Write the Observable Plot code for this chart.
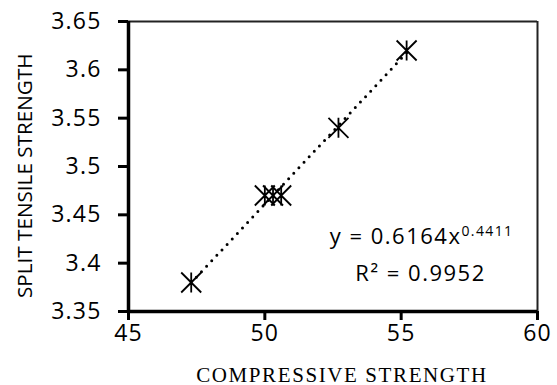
<!DOCTYPE html>
<html><head><meta charset="utf-8">
<script src="https://cdn.jsdelivr.net/npm/d3@7"></script>
<script src="https://cdn.jsdelivr.net/npm/@observablehq/plot@0.6"></script>
<style>body{margin:0;background:#fff}</style>
</head><body><div id="chart"></div>
<script>
const compressive = [47.3, 50.0, 50.3, 50.6, 52.7, 55.2];
const splitTensile = [3.38, 3.47, 3.47, 3.47, 3.54, 3.62];
const xTicks = [45, 50, 55, 60];
const yTicks = [3.35, 3.40, 3.45, 3.50, 3.55, 3.60, 3.65];
const equationText = "y = 0.6164x";
const exponentText = "0.4411";
const r2Text = "R\u00B2 = 0.9952";
const xTitle = "COMPRESSIVE STRENGTH";
const yTitle = "SPLIT TENSILE STRENGTH";

const data = compressive.map((x, i) => ({x, y: splitTensile[i]}));
const star = {
  draw(ctx) {
    const r = 10;
    ctx.moveTo(-r, -r); ctx.lineTo(r, r);
    ctx.moveTo(r, -r); ctx.lineTo(-r, r);
    ctx.moveTo(0, -r); ctx.lineTo(0, r);
  }
};
const fmt = d => String(+d.toFixed(2));

const plot = Plot.plot({
  width: 557, height: 385,
  marginLeft: 128, marginRight: 20, marginTop: 21, marginBottom: 74,
  x: {domain: [45, 60]},
  y: {domain: [3.35, 3.65]},
  style: {fontFamily: "'Open Sans', sans-serif", background: "white", color: "black", overflow: "visible"},
  marks: [
    Plot.ruleY([3.65], {strokeWidth: 2, stroke: "#222"}),
    Plot.ruleX([60], {strokeWidth: 2, stroke: "#222"}),
    Plot.axisX({ticks: xTicks, tickSize: 9, tickPadding: 4, strokeWidth: 3, fontSize: 23, label: null, tickFormat: fmt}),
    Plot.axisY({ticks: yTicks, tickSize: 10, tickPadding: 17, strokeWidth: 3, fontSize: 23, label: null, tickFormat: fmt}),
    Plot.ruleX([45], {strokeWidth: 3.5}),
    Plot.ruleY([3.35], {strokeWidth: 3.5}),
    Plot.linearRegressionY(data, {x: "x", y: "y", stroke: "black", strokeWidth: 3, strokeDasharray: "0 7.5", strokeLinecap: "round", ci: 0}),
    Plot.dot(data, {x: "x", y: "y", symbol: star, stroke: "black", strokeWidth: 1.8, fill: "none"}),
    Plot.text([equationText], {x: 57.21, y: 3.4197, text: d => d, textAnchor: "end", lineAnchor: "bottom", fontSize: 22}),
    Plot.text([exponentText], {x: 57.21, y: 3.428, text: d => d, textAnchor: "start", lineAnchor: "bottom", fontSize: 14}),
    Plot.text([r2Text], {x: 55.71, y: 3.3818, text: d => d, textAnchor: "middle", lineAnchor: "bottom", fontSize: 22}),
    Plot.text([yTitle], {x: 41.22, y: 3.4904, text: d => d, rotate: -90, textAnchor: "middle", lineAnchor: "middle", fontSize: 20.7}),
    Plot.text([xTitle], {x: 52.83, y: 3.2845, text: d => d, textAnchor: "middle", lineAnchor: "middle", fontSize: 21, fontFamily: "'Liberation Serif', 'Times New Roman', serif"})
  ]
});
document.getElementById("chart").appendChild(plot);
const spacing = new Map([[xTitle, "1.6px"], [equationText, "1.5px"], [exponentText, "1.4px"], [r2Text, "1.5px"]]);
d3.select(plot).selectAll("text").each(function() {
  const t = this.textContent;
  if (spacing.has(t)) this.style.letterSpacing = spacing.get(t);
  else if (/^[0-9.]+$/.test(t)) this.style.letterSpacing = "1.2px";
});
</script>
</body></html>
